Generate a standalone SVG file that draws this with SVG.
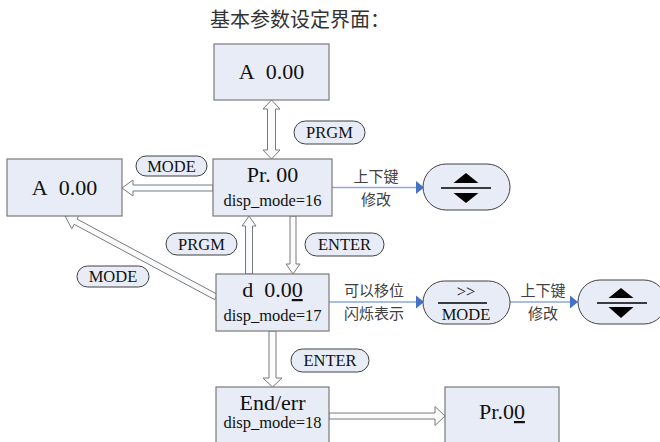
<svg xmlns="http://www.w3.org/2000/svg" width="660" height="442" viewBox="0 0 660 442">
<defs>
<style>
.box{fill:#E8ECF6;stroke:#7A7A7A;stroke-width:1.2}
.pill{fill:#E8ECF6;stroke:#404040;stroke-width:1}
.ha{fill:#FAFBFD;stroke:#7A7A7A;stroke-width:1}
.bl{stroke:#8EA9DB;stroke-width:1.3;fill:none}
.bh{fill:#4472C4}
.t{font-family:"Liberation Serif","Times New Roman",serif;fill:#111;text-anchor:middle}
.big{font-size:22px}
.sm{font-size:16.5px}
.cn{font-family:"Noto Sans CJK SC",sans-serif;font-size:15px;fill:#404040;text-anchor:middle}
.tri{fill:#000}
.bar{stroke:#000;stroke-width:1.5}
</style>
</defs>
<rect width="660" height="442" fill="#fff"/>
<text x="300" y="27" font-family="'Noto Sans CJK SC',sans-serif" font-size="20" fill="#333" text-anchor="middle">基本参数设定界面：</text>

<g id="connectors">
<polygon class="ha" points="271.5,100 280,109 275.5,109 275.5,150 280,150 271.5,159 263,150 267.5,150 267.5,109 263,109"/>
<polygon class="ha" points="122,188 133,180 133,185 213,185 213,191 133,191 133,196"/>
<polygon class="ha" points="249,216 256,226 252.5,226 252.5,274 245.5,274 245.5,226 242,226"/>
<polygon class="ha" points="293,274 300,264 296,264 296,216 290,216 290,264 286,264"/>
<polygon class="ha" points="65,216 79.35,214.62 76.99,219.03 217.42,294.36 214.58,299.64 74.15,224.31 71.79,228.72"/>
<polygon class="ha" points="272.5,387 282,378 276,378 276,331 269,331 269,378 263,378"/>
<polygon class="ha" points="445,416 435,406.5 435,413 329,413 329,419 435,419 435,425.5"/>
<line class="bl" x1="332" y1="187.5" x2="417" y2="187.5"/>
<polygon class="bh" points="424,187.5 416,181 416,194"/>
<line class="bl" x1="329" y1="302" x2="417" y2="302"/>
<polygon class="bh" points="424,302 416,295.5 416,308.5"/>
<line class="bl" x1="510" y1="302" x2="571" y2="302"/>
<polygon class="bh" points="578,302 570,295.5 570,308.5"/>
<text class="cn" x="376" y="182">上下键</text>
<text class="cn" x="376" y="205">修改</text>
<text class="cn" x="374" y="296">可以移位</text>
<text class="cn" x="374" y="319">闪烁表示</text>
<text class="cn" x="543" y="296">上下键</text>
<text class="cn" x="543" y="319">修改</text>
</g>

<g id="lbl-prgm-top">
<rect class="pill" x="294" y="121" width="71" height="23" rx="11.5"/>
<text class="t sm" x="329.5" y="138">PRGM</text>
</g>
<g id="lbl-mode-top">
<rect class="pill" x="136" y="156" width="71" height="20" rx="10"/>
<text class="t sm" x="171.5" y="171.5">MODE</text>
</g>
<g id="lbl-prgm-mid">
<rect class="pill" x="166" y="233" width="71" height="22" rx="11"/>
<text class="t sm" x="201.5" y="249.5">PRGM</text>
</g>
<g id="lbl-enter-mid">
<rect class="pill" x="305" y="233" width="79" height="23" rx="11.5"/>
<text class="t sm" x="344.5" y="250">ENTER</text>
</g>
<g id="lbl-mode-low">
<rect class="pill" x="77" y="266" width="72" height="21" rx="10.5"/>
<text class="t sm" x="113" y="282">MODE</text>
</g>
<g id="lbl-enter-low">
<rect class="pill" x="291" y="349" width="78" height="23" rx="11.5"/>
<text class="t sm" x="330" y="366">ENTER</text>
</g>

<g id="node-a-top">
<rect class="box" x="214" y="44" width="115" height="56"/>
<text class="t big" x="271.5" y="79">A&#160;&#160;0.00</text>
</g>
<g id="node-a-left">
<rect class="box" x="7" y="159" width="115" height="57"/>
<text class="t big" x="64.5" y="195">A&#160;&#160;0.00</text>
</g>
<g id="node-pr00">
<rect class="box" x="213" y="159" width="119" height="57"/>
<text class="t big" x="272.5" y="182">Pr. 00</text>
<text class="t sm" x="272.5" y="206">disp_mode=16</text>
</g>
<g id="node-d">
<rect class="box" x="216" y="274" width="113" height="57"/>
<text class="t big" x="272.5" y="297">d&#160;&#160;0.0<tspan style="text-decoration:underline">0</tspan></text>
<text class="t sm" x="272.5" y="321">disp_mode=17</text>
</g>
<g id="node-end">
<rect class="box" x="216" y="387" width="113" height="63"/>
<text class="t big" x="272.5" y="410">End/err</text>
<text class="t sm" x="272.5" y="428">disp_mode=18</text>
</g>
<g id="node-pr00b">
<rect class="box" x="445" y="387" width="114" height="63"/>
<text class="t big" x="502" y="419">Pr.0<tspan style="text-decoration:underline">0</tspan></text>
</g>
<g id="node-updown1">
<rect class="pill" x="423" y="164" width="87" height="46" rx="23"/>
<polygon class="tri" points="466,173 478.5,183 453.5,183"/>
<line class="bar" x1="441" y1="188" x2="491" y2="188"/>
<polygon class="tri" points="453.5,193 478.5,193 466,203"/>
</g>
<g id="node-shift">
<rect class="pill" x="423" y="281" width="87" height="43" rx="21.5"/>
<text class="t sm" x="466" y="297">&gt;&gt;</text>
<line class="bar" x1="438" y1="303" x2="487" y2="303"/>
<text class="t sm" x="466" y="320">MODE</text>
</g>
<g id="node-updown2">
<rect class="pill" x="578" y="280" width="88" height="44" rx="22"/>
<polygon class="tri" points="621,288 633.5,298 608.5,298"/>
<line class="bar" x1="597" y1="303" x2="647" y2="303"/>
<polygon class="tri" points="608.5,307 633.5,307 621,318"/>
</g>
</svg>
